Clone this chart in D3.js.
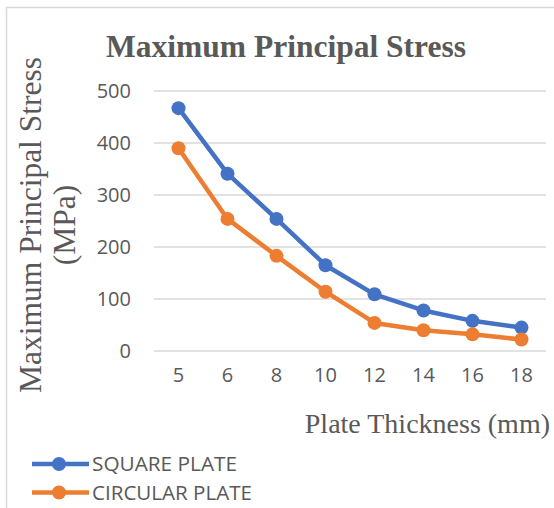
<!DOCTYPE html>
<html>
<head>
<meta charset="utf-8">
<script src="https://cdn.jsdelivr.net/npm/d3@7"></script>
<style>
  body { margin: 0; background: #fff; }
  svg { display: block; }
</style>
</head>
<body>
<div id="chart"></div>
<script>
// chart data
var thickness = ["5", "6", "8", "10", "12", "14", "16", "18"];
var squarePlate = [467, 341, 254, 165, 109, 78, 58, 45];
var circularPlate = [390, 254, 183, 114, 54, 40, 32, 22];
var yTicks = [0, 100, 200, 300, 400, 500];
var seriesNames = ["SQUARE PLATE", "CIRCULAR PLATE"];
var seriesColours = ["#4472C4", "#ED7D31"];

var width = 554, height = 508;
var margin = {left: 154, right: 8, top: 91, bottom: 157};

var svg = d3.select("#chart").append("svg")
  .attr("width", width)
  .attr("height", height);

// chart frame
svg.append("rect")
  .attr("x", 6.5).attr("y", 7.5)
  .attr("width", 600).attr("height", 600)
  .attr("fill", "none")
  .attr("stroke", "#D9D9D9")
  .attr("stroke-width", 1.5);

var x = d3.scaleBand()
  .domain(thickness)
  .range([margin.left, width - margin.right]);

var y = d3.scaleLinear()
  .domain([0, 500])
  .range([height - margin.bottom, margin.top]);

// gridlines
svg.append("g").selectAll("line")
  .data(yTicks)
  .enter().append("line")
  .attr("x1", margin.left).attr("x2", width - margin.right)
  .attr("y1", function(d){ return y(d); })
  .attr("y2", function(d){ return y(d); })
  .attr("stroke", "#D9D9D9")
  .attr("stroke-width", 1.5);

// y axis labels
var yAxis = d3.axisLeft(y).tickValues(yTicks).tickSize(0).tickPadding(0);
var yg = svg.append("g")
  .attr("transform", "translate(131,0)")
  .call(yAxis);
yg.select(".domain").remove();
yg.selectAll("text")
  .attr("fill", "#595959")
  .style("font-family", "'Open Sans', sans-serif")
  .style("font-size", "20px");

// x axis labels
var xAxis = d3.axisBottom(x).tickSize(0).tickPadding(0);
var xg = svg.append("g")
  .attr("transform", "translate(0,368)")
  .call(xAxis);
xg.select(".domain").remove();
xg.selectAll("text")
  .attr("fill", "#595959")
  .attr("dy", "0.71em")
  .style("font-family", "'Open Sans', sans-serif")
  .style("font-size", "20px");

// series
var series = [squarePlate, circularPlate];
var line = d3.line()
  .x(function(d, i){ return x(thickness[i]) + x.bandwidth() / 2; })
  .y(function(d){ return y(d); });

series.forEach(function(values, s){
  var g = svg.append("g");
  g.append("path")
    .datum(values)
    .attr("d", line)
    .attr("fill", "none")
    .attr("stroke", seriesColours[s])
    .attr("stroke-width", 4.5)
    .attr("stroke-linejoin", "round");
  g.selectAll("circle")
    .data(values)
    .enter().append("circle")
    .attr("cx", function(d, i){ return x(thickness[i]) + x.bandwidth() / 2; })
    .attr("cy", function(d){ return y(d); })
    .attr("r", 7)
    .attr("fill", seriesColours[s]);
});

// title
svg.append("text")
  .attr("x", 286).attr("y", 57)
  .attr("text-anchor", "middle")
  .attr("fill", "#595959")
  .style("font-family", "'Liberation Serif', 'Times New Roman', serif")
  .style("font-weight", "bold")
  .style("font-size", "31.5px")
  .text("Maximum Principal Stress");

// y axis title (two lines)
var yTitle = svg.append("text")
  .attr("transform", "translate(0,225) rotate(-90)")
  .attr("text-anchor", "middle")
  .attr("fill", "#595959")
  .style("font-family", "'Liberation Serif', 'Times New Roman', serif")
  .style("font-size", "31.5px");
yTitle.append("tspan").attr("x", 0).attr("y", 41).text("Maximum Principal Stress");
yTitle.append("tspan").attr("x", 0).attr("y", 75).text("(MPa)");

// x axis title
svg.append("text")
  .attr("x", 550).attr("y", 433)
  .attr("text-anchor", "end")
  .attr("fill", "#595959")
  .style("font-family", "'Liberation Serif', 'Times New Roman', serif")
  .style("font-size", "28px")
  .text("Plate Thickness (mm)");

// legend
var legend = svg.append("g").selectAll("g")
  .data(seriesNames)
  .enter().append("g")
  .attr("transform", function(d, i){ return "translate(32," + (464 + i * 28.5) + ")"; });
legend.append("line")
  .attr("x1", 0).attr("x2", 57)
  .attr("stroke", function(d, i){ return seriesColours[i]; })
  .attr("stroke-width", 4.5);
legend.append("circle")
  .attr("cx", 27).attr("r", 7)
  .attr("fill", function(d, i){ return seriesColours[i]; });
legend.append("text")
  .attr("x", 60).attr("y", 7)
  .attr("fill", "#595959")
  .style("font-family", "'Open Sans', sans-serif")
  .style("font-size", "20px")
  .attr("textLength", function(d, i){ return i === 0 ? 145 : 160; })
  .attr("lengthAdjust", "spacingAndGlyphs")
  .text(function(d){ return d; });
</script>
</body>
</html>
